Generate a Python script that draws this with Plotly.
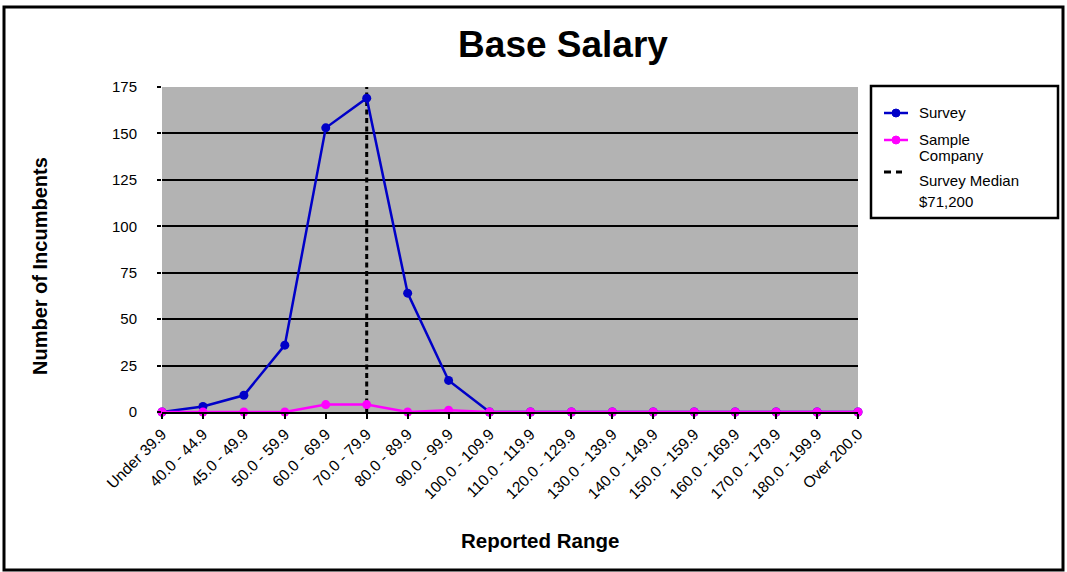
import plotly.graph_objects as go

categories = ["Under 39.9", "40.0 - 44.9", "45.0 - 49.9", "50.0 - 59.9", "60.0 - 69.9",
              "70.0 - 79.9", "80.0 - 89.9", "90.0 - 99.9", "100.0 - 109.9", "110.0 - 119.9",
              "120.0 - 129.9", "130.0 - 139.9", "140.0 - 149.9", "150.0 - 159.9",
              "160.0 - 169.9", "170.0 - 179.9", "180.0 - 199.9", "Over 200.0"]
survey = [0, 3, 9, 36, 153, 169, 64, 17, 0, 0, 0, 0, 0, 0, 0, 0, 0, 0]
sample_company = [0, 0, 0, 0, 4, 4, 0, 1, 0, 0, 0, 0, 0, 0, 0, 0, 0, 0]
median_category = "70.0 - 79.9"
y_ticks = [0, 25, 50, 75, 100, 125, 150, 175]

SURVEY_C = "#0000c8"
SAMPLE_C = "#ff00ff"
FONT = "Liberation Sans, Arial, sans-serif"

# plot area in page pixels
L, R, T, B = 162, 858, 87, 412
W, H = 1067, 572
PW, PH = R - L, B - T


def px(x):
    return (x - L) / PW


def py(y):
    return (B - y) / PH


idx = list(range(len(categories)))
mi = categories.index(median_category)

fig = go.Figure()
fig.add_trace(go.Scatter(x=[mi, mi], y=[0, max(y_ticks)], mode="lines",
                         name="Survey Median $71,200",
                         line=dict(color="black", width=3, dash="5px,3.5px")))
fig.add_trace(go.Scatter(x=idx, y=survey, mode="lines+markers", name="Survey",
                         line=dict(color=SURVEY_C, width=2.5),
                         marker=dict(color=SURVEY_C, size=9), cliponaxis=False))
fig.add_trace(go.Scatter(x=idx, y=sample_company, mode="lines+markers", name="Sample Company",
                         line=dict(color=SAMPLE_C, width=2.5),
                         marker=dict(color=SAMPLE_C, size=9), cliponaxis=False))

shapes = []
# outer border
shapes.append(dict(type="rect", xref="paper", yref="paper",
                   x0=px(4), x1=px(1063), y0=py(570), y1=py(7),
                   line=dict(color="black", width=3), layer="below"))
# legend box
shapes.append(dict(type="rect", xref="paper", yref="paper",
                   x0=px(871), x1=px(1058), y0=py(218), y1=py(86),
                   line=dict(color="black", width=2.5), fillcolor="white"))
# legend symbols
for yy, c in [(113, SURVEY_C), (140, SAMPLE_C)]:
    shapes.append(dict(type="line", xref="paper", yref="paper",
                       x0=px(884), x1=px(908), y0=py(yy), y1=py(yy),
                       line=dict(color=c, width=2.5)))
    shapes.append(dict(type="circle", xref="paper", yref="paper",
                       xsizemode="pixel", ysizemode="pixel",
                       xanchor=px(896), yanchor=py(yy), x0=-4, x1=4, y0=-4, y1=4,
                       line=dict(color=c, width=1), fillcolor=c))
shapes.append(dict(type="line", xref="paper", yref="paper",
                   x0=px(884), x1=px(902), y0=py(172), y1=py(172),
                   line=dict(color="black", width=3, dash="7px,5px")))

annotations = []
for txt, yy in [("Survey", 113), ("Sample", 139.5), ("Company", 155.5),
                ("Survey Median", 180.5), ("$71,200", 201.5)]:
    annotations.append(dict(text=txt, xref="paper", yref="paper", x=px(918), y=py(yy),
                            xanchor="left", yanchor="middle", showarrow=False,
                            borderpad=0,
                            font=dict(size=15, family=FONT, color="black")))
# axis titles
annotations.append(dict(text="<b>Reported Range</b>", xref="paper", yref="paper",
                        x=px(540), y=py(540), xanchor="center", yanchor="middle",
                        showarrow=False, font=dict(size=20.5, family=FONT, color="black")))
annotations.append(dict(text="<b>Number of Incumbents</b>", xref="paper", yref="paper",
                        x=px(40), y=py(266), xanchor="center", yanchor="middle",
                        textangle=-90, showarrow=False,
                        font=dict(size=20, family=FONT, color="black")))

fig.update_layout(
    width=W, height=H,
    margin=dict(l=L, r=W - R, t=T, b=H - B),
    paper_bgcolor="white", plot_bgcolor="#b3b3b3",
    font=dict(family=FONT, color="black", size=15),
    title=dict(text="<b>Base Salary</b>", x=563 / W, xanchor="center",
               y=1 - 44 / H, yanchor="middle", font=dict(size=37, family=FONT)),
    showlegend=False,
    shapes=shapes,
    annotations=annotations,
    xaxis=dict(range=[0, len(categories) - 1], tickmode="array", tickvals=idx,
               ticktext=categories, tickangle=-45, ticks="outside", ticklen=5,
               tickwidth=2, tickcolor="black", showline=True, linecolor="black",
               linewidth=2, showgrid=False, zeroline=False, automargin=False,
               tickfont=dict(size=15.5)),
    yaxis=dict(range=[0, 175], tickmode="array", tickvals=y_ticks, ticks="outside",
               ticklen=4, tickwidth=2, tickcolor="black", showgrid=True,
               gridcolor="black", gridwidth=2, showline=False, zeroline=False,
               automargin=False, tickfont=dict(size=15), ticklabelstandoff=17),
)

fig.write_html("out.html", config={"displayModeBar": False},
               post_script="document.body.style.margin='0';document.body.style.padding='0';")
